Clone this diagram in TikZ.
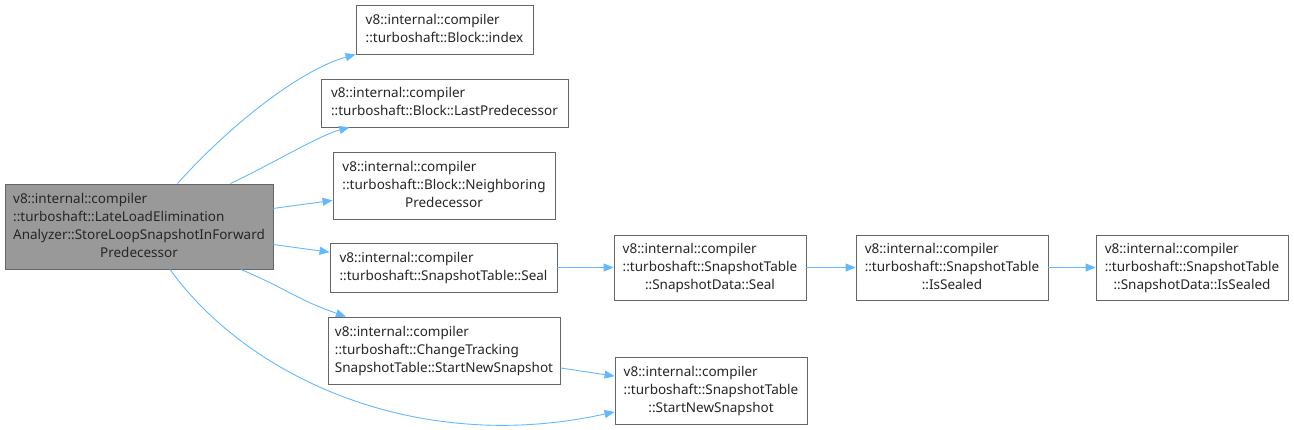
\documentclass[tikz,border=0pt]{standalone}
\usepackage{fontspec}
\setmainfont{Noto Sans}
\usetikzlibrary{arrows.meta}
\definecolor{edgec}{HTML}{63B8FF}
\definecolor{bordc}{HTML}{666666}
\definecolor{rootc}{HTML}{999999}
\newcommand{\lbl}[2]{{\fontsize{13.5}{18}\selectfont\begin{tabular}{@{}l@{}}#1\\\multicolumn{1}{@{}c@{}}{#2}\end{tabular}}}
\begin{document}
\begin{tikzpicture}[x=1pt,y=-1pt,
  box/.style={draw=bordc,line width=0.9pt,fill=white,inner sep=0pt,text=black!85},
  rootbox/.style={box,fill=rootc},
  edge/.style={draw=edgec,line width=0.9pt,-{Triangle[length=10pt,width=8pt]}}]
\useasboundingbox (0,0) rectangle (1294,430);
\node[rootbox,minimum width=268pt,minimum height=85pt] (A) at (139,226.5) {\lbl{v8::internal::compiler\\::turboshaft::LateLoadElimination\\Analyzer::StoreLoopSnapshotInForward}{Predecessor}};
\node[box,minimum width=177pt,minimum height=49pt] (B1) at (444.5,29.5) {\lbl{v8::internal::compiler}{::turboshaft::Block::index}};
\node[box,minimum width=247pt,minimum height=48pt] (B2) at (444.5,103) {\lbl{v8::internal::compiler}{::turboshaft::Block::LastPredecessor}};
\node[box,minimum width=222pt,minimum height=67pt] (B3) at (444,185.5) {\lbl{v8::internal::compiler\\::turboshaft::Block::Neighboring}{Predecessor}};
\node[box,minimum width=227pt,minimum height=49pt] (B4) at (443.5,267.5) {\lbl{v8::internal::compiler}{::turboshaft::SnapshotTable::Seal}};
\node[box,minimum width=232pt,minimum height=67pt] (B5) at (444,350.5) {\lbl{v8::internal::compiler\\::turboshaft::ChangeTracking}{SnapshotTable::StartNewSnapshot}};
\node[box,minimum width=192pt,minimum height=65pt] (C1) at (710,267.5) {\lbl{v8::internal::compiler\\::turboshaft::SnapshotTable}{::SnapshotData::Seal}};
\node[box,minimum width=192pt,minimum height=67pt] (C2) at (711,390.5) {\lbl{v8::internal::compiler\\::turboshaft::SnapshotTable}{::StartNewSnapshot}};
\node[box,minimum width=192pt,minimum height=65pt] (D1) at (952,267.5) {\lbl{v8::internal::compiler\\::turboshaft::SnapshotTable}{::IsSealed}};
\node[box,minimum width=192pt,minimum height=65pt] (E1) at (1192,267.5) {\lbl{v8::internal::compiler\\::turboshaft::SnapshotTable}{::SnapshotData::IsSealed}};
\draw[edge] (A) .. controls (230,125) and (300,70) .. (B1);
\draw[edge] (A) .. controls (270,165) and (320,135) .. (B2);
\draw[edge] (A) -- (B3);
\draw[edge] (A) -- (B4);
\draw[edge] (A) .. controls (285,288) and (298,300) .. (B5);
\draw[edge] (A) .. controls (250,380) and (420,455) .. (C2);
\draw[edge] (B4) -- (C1);
\draw[edge] (C1) -- (D1);
\draw[edge] (D1) -- (E1);
\draw[edge] (B5) -- (C2);
\end{tikzpicture}
\end{document}
